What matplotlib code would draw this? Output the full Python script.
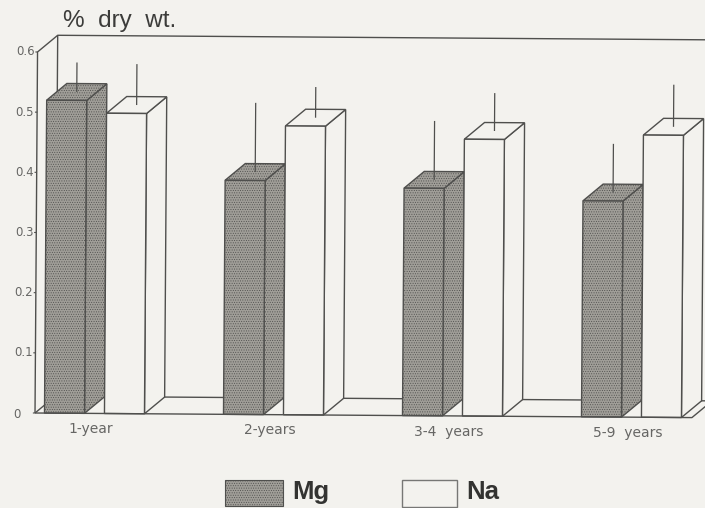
import matplotlib
matplotlib.use('Agg')
import matplotlib.pyplot as plt
from matplotlib.patches import Polygon, Rectangle
from matplotlib.transforms import Affine2D

categories = ['1-year', '2-years', '3-4  years', '5-9  years']
mg_values = [0.520, 0.389, 0.378, 0.359]
na_values = [0.499, 0.480, 0.460, 0.469]
mg_err_top = [0.583, 0.518, 0.490, 0.454]
na_err_top = [0.581, 0.545, 0.537, 0.553]
y_ticks = [0, 0.1, 0.2, 0.3, 0.4, 0.5, 0.6]
y_labels = ['0', '0.1', '0.2', '0.3', '0.4', '0.5', '0.6']

bg = '#f3f2ee'
line_col = '#4f4f4d'
text_col = '#666664'
stipple = '#a09e98'
bar_w = 0.2235
na_off = 0.335
dx = 0.112    # depth of the 3d effect, x units
dy = 0.028    # depth of the 3d effect, y units
x_left = -0.053
x_right = 3.617

plt.rcParams['hatch.linewidth'] = 0.4
fig = plt.figure(figsize=(7.05, 5.08), dpi=100, facecolor=bg)
ax = fig.add_axes([0, 0, 1, 1])
ax.set_xlim(-44.5 / 179, (705 - 44.5) / 179)
ax.set_ylim(-95 / 601.7, 413 / 601.7)
ax.axis('off')

# the page was scanned slightly crooked
tr = ax.transData + Affine2D().rotate_deg_around(35, 95, -0.4)


def wire(xs, ys, lw=1.0, z=1):
    ax.plot(xs, ys, color=line_col, lw=lw, transform=tr, clip_on=False,
            solid_capstyle='butt', zorder=z)


# walls and floor
wire([x_left, x_left, x_left + dx, 4.2], [0, 0.6, 0.6 + dy, 0.6 + dy])
wire([x_left + dx, x_left + dx], [0.6 + dy, dy])
wire([x_left, x_left + dx], [0, dy])
wire([x_left + dx, 4.2], [dy, dy])
wire([x_left, x_right, x_right + dx], [0, 0, dy], z=30)

for t, lab in zip(y_ticks, y_labels):
    wire([x_left - 0.012, x_left], [t, t], lw=0.8)
    if t == 0:
        ax.text(-0.135, t - 0.002, lab, ha='right', va='center', fontsize=8.5, color=text_col,
                transform=tr)
    else:
        ax.text(x_left - 0.016, t, lab, ha='right', va='center', fontsize=8.5, color=text_col,
                transform=tr)


def draw_bar(x, v, err, face, hatch, z):
    side = [(x + bar_w, 0), (x + bar_w + dx, dy), (x + bar_w + dx, v + dy), (x + bar_w, v)]
    top = [(x, v), (x + dx, v + dy), (x + bar_w + dx, v + dy), (x + bar_w, v)]
    for pts in (side, top):
        ax.add_patch(Polygon(pts, closed=True, facecolor=face, edgecolor=line_col, lw=1.0,
                             hatch=hatch, transform=tr, zorder=z))
    ax.bar(x, v, bar_w, align='edge', color=face, edgecolor=line_col, lw=1.0, hatch=hatch,
           transform=tr, zorder=z + 0.1)
    mid = x + (bar_w + dx) / 2
    wire([mid, mid], [v + dy / 2, err], lw=0.9, z=z + 0.2)


for i, cat in enumerate(categories):
    draw_bar(i, mg_values[i], mg_err_top[i], stipple, '.......', 2 + i * 2)
    draw_bar(i + na_off, na_values[i], na_err_top[i], bg, None, 3 + i * 2)
    ax.text(i + 0.26, -0.026, cat, ha='center', va='center', fontsize=10, color=text_col,
            transform=tr)

# title and legend, placed in figure pixels
fig.text(63 / 705, 1 - 21.5 / 508, '%  dry  wt.', fontsize=17.5, color='#3c3c3a', va='center',
         family='Liberation Sans')
fig.add_artist(Rectangle((225 / 705, 1 - 506 / 508), 58 / 705, 26 / 508, facecolor=stipple,
                         edgecolor=line_col, lw=0.8, hatch='.......', transform=fig.transFigure))
fig.add_artist(Rectangle((402 / 705, 1 - 507 / 508), 55 / 705, 27 / 508, facecolor=bg,
                         edgecolor='#777775', lw=1.0, transform=fig.transFigure))
fig.text(292 / 705, 1 - 492 / 508, 'Mg', fontsize=18.5, fontweight='bold', color='#333331',
         va='center', family='Liberation Sans')
fig.text(466 / 705, 1 - 492 / 508, 'Na', fontsize=18.5, fontweight='bold', color='#333331',
         va='center', family='Liberation Sans')

fig.savefig('out.png', dpi=100, facecolor=bg)
